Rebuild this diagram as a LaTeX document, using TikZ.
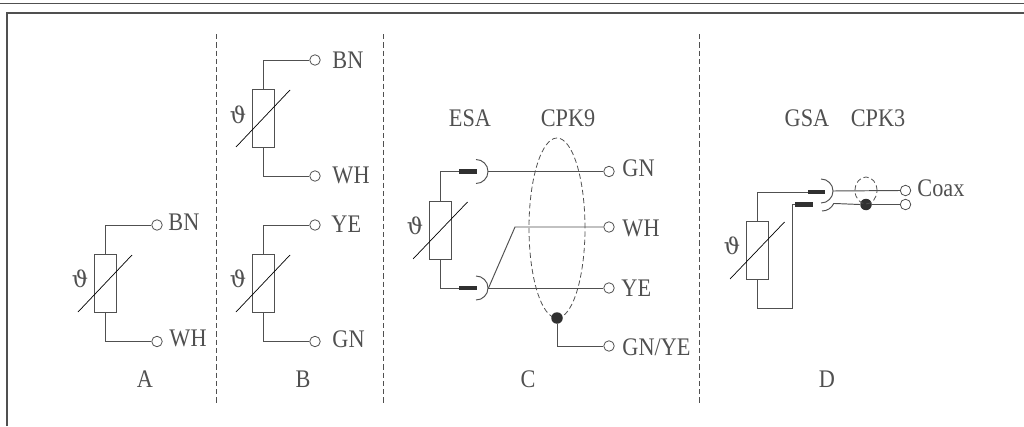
\documentclass[tikz,border=0pt]{standalone}
\usepackage{amsmath, amssymb}
\usepackage{fontspec}
\usepackage{tikz}
\setmainfont[FakeStretch=0.88]{Liberation Serif}
\newfontfamily\thetafont{DejaVu Serif}
\newcommand{\thetasym}{{\thetafont\fontsize{13}{14}\selectfont ϑ}}
\definecolor{wire}{HTML}{505050}
\begin{document}
\begin{tikzpicture}[x=0.02cm, y=0.02cm, color=wire, line width=0.55pt]
\tikzstyle{every node}+=[inner sep=0pt, font=\fontsize{14.4}{16}\selectfont]
\tikzstyle{term}=[draw, circle, fill=white, minimum size=0.21cm, line width=0.45pt]
\tikzstyle{res}=[draw, rectangle, minimum width=0.44cm, minimum height=1.16cm]
\tikzstyle{dot}=[fill=wire!60!black, circle, minimum size=0.23cm]
\tikzstyle{lab}=[anchor=west]
\tikzstyle{divider}=[dash pattern=on 3pt off 1.7pt, line width=0.45pt]
\tikzstyle{pin}=[line width=2.4pt, draw=wire!60!black]
\tikzstyle{slash}=[line width=0.4pt, draw=black]
\useasboundingbox (0,0) rectangle (1024,-426);
% frame
\coordinate (f1) at (0,-3.5);
\coordinate (f2) at (1024,-3.5);
\coordinate (f3) at (7,-426);
\coordinate (f4) at (7,-13);
\coordinate (f5) at (1024,-13);
\draw [line width=0.7pt] (f1) -- (f2);
\draw [line width=0.9pt] (f3) -- (f4) -- (f5);
% dividers
\coordinate (d1a) at (216,-34);
\coordinate (d1b) at (216,-403);
\coordinate (d2a) at (383,-34);
\coordinate (d2b) at (383,-403);
\coordinate (d3a) at (699,-34);
\coordinate (d3b) at (699,-403);
\draw [divider] (d1a) -- (d1b);
\draw [divider] (d2a) -- (d2b);
\draw [divider] (d3a) -- (d3b);
% A
\node [res] (ra) at (105,-283) {};
\node [term] (ta1) at (157,-225) {};
\node [term] (ta2) at (157,-341.5) {};
\node (tha) at (80,-279) {\thetasym};
\node [lab] (la1) at (168,-222) {BN};
\node [lab] (la2) at (169,-338) {WH};
\node (na) at (145,-379) {A};
\draw (ra.north) |- (ta1.west);
\draw (ra.south) |- (ta2.west);
\coordinate (sa1) at (78,-312);
\coordinate (sa2) at (132,-255);
\draw [slash] (sa1) -- (sa2);
% B
\node [res] (rb1) at (263,-118) {};
\node [term] (tb1) at (315,-60) {};
\node [term] (tb2) at (315,-176) {};
\node (thb1) at (238,-115) {\thetasym};
\node [lab] (lb1) at (332,-60) {BN};
\node [lab] (lb2) at (332,-175) {WH};
\draw (rb1.north) |- (tb1.west);
\draw (rb1.south) |- (tb2.west);
\coordinate (sb1) at (236,-147);
\coordinate (sb2) at (290,-90);
\draw [slash] (sb1) -- (sb2);
\node [res] (rb2) at (263,-283) {};
\node [term] (tb3) at (315,-225) {};
\node [term] (tb4) at (315,-341.5) {};
\node (thb2) at (238,-279) {\thetasym};
\node [lab] (lb3) at (331,-224) {YE};
\node [lab] (lb4) at (332,-339) {GN};
\node (nb) at (303,-379) {B};
\draw (rb2.north) |- (tb3.west);
\draw (rb2.south) |- (tb4.west);
\coordinate (sb3) at (236,-312);
\coordinate (sb4) at (290,-255);
\draw [slash] (sb3) -- (sb4);
% C
\node [res] (rc) at (440.5,-230) {};
\node [term] (tc1) at (609,-171.5) {};
\node [term] (tc2) at (609,-227) {};
\node [term] (tc3) at (609,-288) {};
\node [term] (tc4) at (609,-346) {};
\node (thc) at (415,-226) {\thetasym};
\node [lab] (lc1) at (622,-168) {GN};
\node [lab] (lc2) at (622,-228) {WH};
\node [lab] (lc3) at (621,-288) {YE};
\node [lab] (lc4) at (622,-347) {GN/YE};
\node (esa) at (470,-118) {ESA};
\node (cpk9) at (568,-118) {CPK9};
\node (nc) at (528,-379) {C};
\coordinate (pc1) at (459,-171.5);
\coordinate (pc2) at (477,-171.5);
\coordinate (pc3) at (459,-288);
\coordinate (pc4) at (477,-288);
\coordinate (kc1) at (515,-227);
\coordinate (sc1) at (413,-259);
\coordinate (sc2) at (467.5,-202);
\draw [slash] (sc1) -- (sc2);
\draw (rc.north) |- (pc1);
\draw (rc.south) |- (pc3);
\draw [pin] (pc1) -- (pc2);
\draw [pin] (pc3) -- (pc4);
\draw (476,-159.5) arc (90:-90:12);
\draw (476,-276) arc (90:-90:12);
\draw (488,-171.5) -- (tc1.west);
\draw (488,-288) -- (tc3.west);
\draw (488.5,-288) -- (kc1) -- (tc2.west);
\draw [divider] (557,-228) ellipse (28 and 90);
\node [dot] (dc) at (557,-318) {};
\draw (dc.south) |- (tc4.west);
% D
\node [res] (rd) at (757,-250) {};
\node [term] (td1) at (905.5,-190.5) {};
\node [term] (td2) at (905.5,-204.5) {};
\node (thd) at (732,-246) {\thetasym};
\node [lab] (ld1) at (917,-188) {Coax};
\node (gsa) at (807,-118) {GSA};
\node (cpk3) at (878,-118) {CPK3};
\node (nd) at (827,-379) {D};
\coordinate (pd1) at (808,-192);
\coordinate (pd2) at (825,-192);
\coordinate (pd3) at (795,-204.5);
\coordinate (pd4) at (813,-204.5);
\coordinate (kd1) at (792,-308);
\coordinate (sd1) at (730,-279);
\coordinate (sd2) at (784.5,-222);
\draw [slash] (sd1) -- (sd2);
\draw (rd.south) |- (kd1) |- (pd3);
\draw (rd.north) |- (pd1);
\draw [pin] (pd1) -- (pd2);
\draw [pin] (pd3) -- (pd4);
\draw (821,-179) arc (90:-90:12);
\draw (822,-211) arc (-90:-25:13) -- (835,-203.5);
\draw (833,-191) -- (td1.west);
\node [dot] (dd) at (866,-204.5) {};
\draw (835,-203.5) -- (dd.west);
\draw (dd.east) -- (td2.west);
\draw [divider] (866,-190.5) ellipse (11 and 13.5);
\end{tikzpicture}
\end{document}
